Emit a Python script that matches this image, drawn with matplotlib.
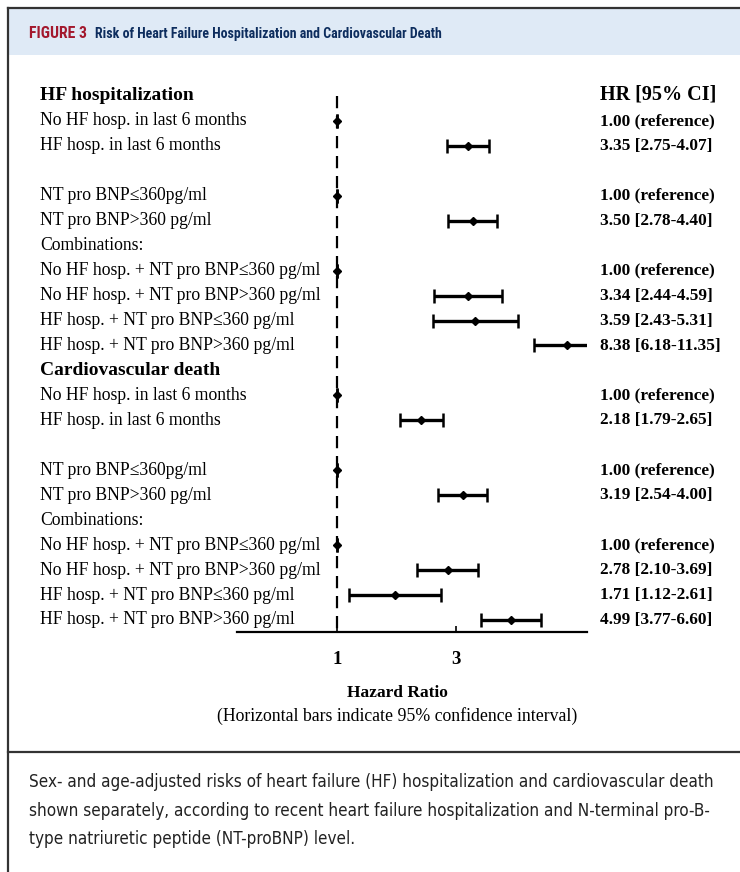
import matplotlib
matplotlib.use("Agg")
import matplotlib.pyplot as plt
from matplotlib.lines import Line2D
from matplotlib.patches import Rectangle
from matplotlib import font_manager as fm
import numpy as np

W, H = 740, 872

# ---------------- data ----------------
row_labels = [
    "HF hospitalization",
    "No HF hosp. in last 6 months",
    "HF hosp. in last 6 months",
    "",
    "NT pro BNP\u2264360pg/ml",
    "NT pro BNP>360 pg/ml",
    "Combinations:",
    "No HF hosp. + NT pro BNP\u2264360 pg/ml",
    "No HF hosp. + NT pro BNP>360 pg/ml",
    "HF hosp. + NT pro BNP\u2264360 pg/ml",
    "HF hosp. + NT pro BNP>360 pg/ml",
    "Cardiovascular death",
    "No HF hosp. in last 6 months",
    "HF hosp. in last 6 months",
    "",
    "NT pro BNP\u2264360pg/ml",
    "NT pro BNP>360 pg/ml",
    "Combinations:",
    "No HF hosp. + NT pro BNP\u2264360 pg/ml",
    "No HF hosp. + NT pro BNP>360 pg/ml",
    "HF hosp. + NT pro BNP\u2264360 pg/ml",
    "HF hosp. + NT pro BNP>360 pg/ml",
]
header_rows = [0, 11]

hr_est = [None, 1.00, 3.35, None, 1.00, 3.50, None, 1.00, 3.34, 3.59, 8.38,
          None, 1.00, 2.18, None, 1.00, 3.19, None, 1.00, 2.78, 1.71, 4.99]
ci_low = [None, 1.00, 2.75, None, 1.00, 2.78, None, 1.00, 2.44, 2.43, 6.18,
          None, 1.00, 1.79, None, 1.00, 2.54, None, 1.00, 2.10, 1.12, 3.77]
ci_high = [None, 1.00, 4.07, None, 1.00, 4.40, None, 1.00, 4.59, 5.31, 11.35,
           None, 1.00, 2.65, None, 1.00, 4.00, None, 1.00, 3.69, 2.61, 6.60]
value_text = ["", "1.00 (reference)", "3.35 [2.75-4.07]", "",
              "1.00 (reference)", "3.50 [2.78-4.40]", "",
              "1.00 (reference)", "3.34 [2.44-4.59]", "3.59 [2.43-5.31]", "8.38 [6.18-11.35]",
              "", "1.00 (reference)", "2.18 [1.79-2.65]", "",
              "1.00 (reference)", "3.19 [2.54-4.00]", "",
              "1.00 (reference)", "2.78 [2.10-3.69]", "1.71 [1.12-2.61]", "4.99 [3.77-6.60]"]
x_ticks = [1, 3]
x_ticklabels = ["1", "3"]

caption_lines = [
    "Sex- and age-adjusted risks of heart failure (HF) hospitalization and cardiovascular death",
    "shown separately, according to recent heart failure hospitalization and N-terminal pro-B-",
    "type natriuretic peptide (NT-proBNP) level.",
]

# ---------------- font choice for the narrow header ----------------
def pick_narrow():
    for fam in ["Roboto Condensed", "Open Sans Condensed", "Liberation Sans Narrow",
                "Noto Sans Condensed", "Arial Narrow"]:
        try:
            path = fm.findfont(fm.FontProperties(family=fam, weight="bold"),
                               fallback_to_default=False)
            name = fm.FontProperties(fname=path).get_name()
            if name == fam:
                return fam
        except Exception:
            pass
    return None

narrow_fam = pick_narrow()

# ---------------- figure ----------------
fig = plt.figure(figsize=(W / 100, H / 100), dpi=100)
fig.patch.set_facecolor("white")

def fx(px):
    return px / W

def fy(py):
    return 1 - py / H

SERIF = ["Liberation Serif", "DejaVu Serif"]
NARROW = ["DejaVu Sans"]

# header band and frame
fig.patches.append(Rectangle((fx(9), fy(55)), fx(740) - fx(9), fy(9) - fy(55),
                             transform=fig.transFigure, facecolor="#dfeaf6",
                             edgecolor="none", zorder=0))
frame_kw = dict(transform=fig.transFigure, color="#333333", lw=1.6)
fig.lines.append(Line2D([fx(8), fx(740)], [fy(8), fy(8)], **frame_kw))
fig.lines.append(Line2D([fx(8), fx(8)], [fy(8), fy(872)], **frame_kw))
fig.lines.append(Line2D([fx(8), fx(740)], [fy(752), fy(752)], **frame_kw))

if narrow_fam:
    hdr_kw = dict(family=[narrow_fam, "DejaVu Sans"])
else:
    hdr_kw = dict(family=["DejaVu Sans"], fontstretch="condensed")

t_fig = fig.text(fx(29), fy(34), "FIGURE 3", color="#a3182d", fontsize=11.5,
                 fontweight="bold", va="center", ha="left", **hdr_kw)
t_title = fig.text(fx(95), fy(34), "Risk of Heart Failure Hospitalization and Cardiovascular Death",
                   color="#0d2d5e", fontsize=11.5, fontweight="bold",
                   va="center", ha="left", **hdr_kw)

# ---------------- forest axes ----------------
row0_px, row_step = 96.0, 24.95
axis_px = 632.0
n_rows = len(row_labels)
y_bottom = (axis_px - row0_px) / row_step
y_top = -0.5
top_px = row0_px + y_top * row_step
ax_left, ax_right = 237.0, 587.0
ax = fig.add_axes([fx(ax_left), fy(axis_px), fx(ax_right) - fx(ax_left), fy(top_px) - fy(axis_px)])
ax.set_xscale("log")
k = 119.0 / np.log(3.0)
ax.set_xlim(np.exp(-(337 - ax_left) / k), np.exp((ax_right - 337) / k))
ax.set_ylim(y_bottom, y_top)
for s in ["top", "left", "right"]:
    ax.spines[s].set_visible(False)
ax.spines["bottom"].set_linewidth(1.6)
ax.set_yticks([])
ax.set_xticks(x_ticks)
ax.set_xticklabels(x_ticklabels)
ax.xaxis.set_minor_locator(matplotlib.ticker.NullLocator())
ax.tick_params(axis="x", direction="in", length=4, width=1.2, pad=14, labelsize=13.5)
for t in ax.get_xticklabels():
    t.set_fontweight("bold")
    t.set_family(SERIF)
ax.patch.set_alpha(0)

ax.plot([1, 1], [0, y_bottom], ls=(0, (5.5, 3.5)), color="black", lw=1.6, zorder=1)

rows = np.arange(n_rows)
for i in rows:
    if hr_est[i] is None:
        continue
    ax.errorbar([hr_est[i]], [i],
                xerr=[[hr_est[i] - ci_low[i]], [ci_high[i] - hr_est[i]]],
                fmt="D", color="black", ms=4.5, elinewidth=2.4, capsize=5,
                capthick=1.8, zorder=3, clip_on=True)

# ---------------- texts ----------------
for i, lab in enumerate(row_labels):
    if not lab:
        continue
    ypx = row0_px + i * row_step
    if i in header_rows:
        fig.text(fx(40), fy(ypx), lab, family=SERIF, fontsize=14, fontweight="bold",
                 va="center", ha="left")
    else:
        fig.text(fx(40), fy(ypx), lab, family=SERIF, fontsize=12.7, va="center", ha="left")
    if value_text[i]:
        fig.text(fx(600), fy(ypx), value_text[i], family=SERIF, fontsize=12.4,
                 fontweight="bold", va="center", ha="left")

fig.text(fx(600), fy(94), "HR [95% CI]", family=SERIF, fontsize=14.5,
         fontweight="bold", va="center", ha="left")

fig.text(fx(397), fy(693), "Hazard Ratio", family=SERIF, fontsize=12.5,
         fontweight="bold", va="center", ha="center")
fig.text(fx(397), fy(716), "(Horizontal bars indicate 95% confidence interval)",
         family=SERIF, fontsize=12.8, va="center", ha="center")

cap_texts = []
for j, line in enumerate(caption_lines):
    cap_texts.append(fig.text(fx(29), fy(782 + 28.5 * j), line, family=NARROW,
                              fontstretch="condensed", fontsize=13, color="#222222",
                              va="center", ha="left"))

# fit header / caption widths to the reference
fig.canvas.draw()
r = fig.canvas.get_renderer()

def fit(t, target_px, min_size):
    w = t.get_window_extent(r).width
    if w > 0:
        t.set_fontsize(max(min_size, t.get_fontsize() * target_px / w))

fit(t_fig, 58, 10.0)
fit(t_title, 347, 9.8)
# place the title right after "FIGURE 3"
fig.canvas.draw()
fig_end = t_fig.get_window_extent(r).x1
t_title.set_x(fx(max(95, fig_end + 8)))

w0 = cap_texts[0].get_window_extent(r).width
scale = 684.0 / w0
for t in cap_texts:
    t.set_fontsize(t.get_fontsize() * scale)

fig.savefig("out.png", dpi=100, facecolor="white")
